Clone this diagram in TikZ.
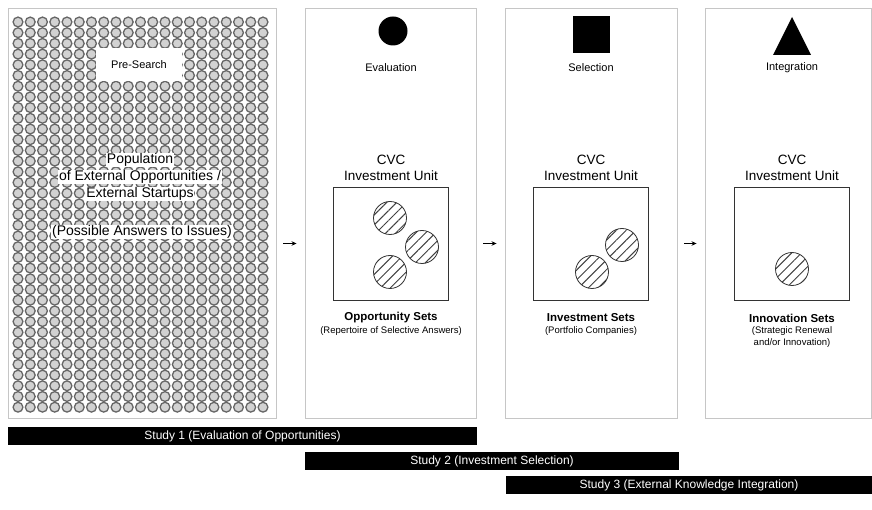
\documentclass[tikz,border=0pt]{standalone}
\usepackage{fontspec}
\setmainfont{Liberation Sans}
\usetikzlibrary{arrows.meta, positioning, calc, patterns.meta}

\begin{document}
\begin{tikzpicture}[x=1pt, y=-1pt,
    panel/.style={rectangle, draw=gray!45, line width=0.9pt, fill=white, inner sep=0pt, minimum height=410pt},
    unit/.style={rectangle, draw=black!80, line width=0.9pt, minimum width=115pt, minimum height=113pt, inner sep=0pt},
    pick/.style={circle, draw=black!80, line width=0.8pt, minimum size=33pt, inner sep=0pt, pattern={Lines[angle=45, distance=7pt, line width=1pt]}, pattern color=black!75},
    dot/.style={draw=black!60, fill=gray!35, line width=1.3pt},
    halo/.style={fill=white, inner sep=0.8pt, font=\fontsize{14}{16}\selectfont},
    stage/.style={font=\fontsize{11}{13}\selectfont},
    cvc/.style={align=center, inner sep=0pt, font=\fontsize{13.5}{16.5}\selectfont},
    setname/.style={inner sep=0pt, font=\fontsize{11.5}{13}\selectfont\bfseries},
    setnote/.style={align=center, inner sep=0pt, font=\fontsize{9.5}{11.5}\selectfont},
    study/.style={rectangle, fill=black, text=white, minimum height=18pt, inner sep=0pt, font=\fontsize{12}{13}\selectfont},
    flow/.style={-{Stealth[length=5pt, width=4.5pt]}, line width=1pt}
]
\useasboundingbox (0,0) rectangle (872,510);

% Panels
\node[panel, minimum width=268pt] (pool) at (142,213) {};
\node[panel, minimum width=171pt] (evalp) at (390.5,213) {};
\node[panel, minimum width=172pt] (selp) at (591,213) {};
\node[panel, minimum width=166pt] (intp) at (788,213) {};

% Population of startups
\foreach \i in {0,...,20}
  \foreach \j in {0,...,36}
    \draw[dot] (18+12.25*\i, 22+10.7*\j) circle[radius=4.9pt];

\node[fill=white, minimum width=86pt, minimum height=33pt, font=\fontsize{11}{13}\selectfont] (presearch) at (139,65) {Pre-Search};
\node[halo] (pop1) at (140,160) {Population};
\node[halo] (pop2) at (140,177) {of External Opportunities /};
\node[halo] (pop3) at (140,194) {External Startups};
\node[halo] (pop4) at (142,232) {(Possible Answers to Issues)};

% Stage icons
\node[circle, fill=black, minimum size=29pt, inner sep=0pt] (evalicon) at (393,31) {};
\node[rectangle, fill=black, minimum size=37pt, inner sep=0pt] (selicon) at (591.5,35) {};
\fill (773,55) -- (792,17) -- (811,55) -- cycle;

\node[stage] (evallabel) at (391,68) {Evaluation};
\node[stage] (sellabel) at (591,68) {Selection};
\node[stage] (intlabel) at (792,68) {Integration};

% CVC units
\node[cvc] (evalcvc) at (391,168) {CVC\\Investment Unit};
\node[cvc] (selcvc) at (591,168) {CVC\\Investment Unit};
\node[cvc] (intcvc) at (792,168) {CVC\\Investment Unit};

\node[unit] (evalunit) at (390.5,243.5) {};
\node[unit] (selunit) at (590.5,243.5) {};
\node[unit] (intunit) at (791.5,243.5) {};

\node[pick] (eval1) at (390,218) {};
\node[pick] (eval2) at (422,247) {};
\node[pick] (eval3) at (390,272) {};
\node[pick] (sel1) at (622,245) {};
\node[pick] (sel2) at (592,272) {};
\node[pick] (int1) at (792,269) {};

% Sets
\node[setname] (evalset) at (391,318) {Opportunity Sets};
\node[setnote] (evalnote) at (391,331) {(Repertoire of Selective Answers)};
\node[setname] (selset) at (591,318) {Investment Sets};
\node[setnote] (selnote) at (591,331) {(Portfolio Companies)};
\node[setname] (intset) at (792,318) {Innovation Sets};
\node[setnote] (intnote) at (792,337) {(Strategic Renewal\\and/or Innovation)};

% Arrows
\draw[flow] ($(pool.east |- evalunit.center)+(7,0)$) -- ($(evalp.west |- evalunit.center)+(-8,0)$);
\draw[flow] ($(evalp.east |- evalunit.center)+(7,0)$) -- ($(selp.west |- evalunit.center)+(-8,0)$);
\draw[flow] ($(selp.east |- evalunit.center)+(7,0)$) -- ($(intp.west |- evalunit.center)+(-8,0)$);

% Studies
\node[study, minimum width=469pt] (study1) at (242.5,436) {Study 1 (Evaluation of Opportunities)};
\node[study, minimum width=374pt] (study2) at (492,461) {Study 2 (Investment Selection)};
\node[study, minimum width=366pt] (study3) at (689,485) {Study 3 (External Knowledge Integration)};
\end{tikzpicture}
\end{document}
